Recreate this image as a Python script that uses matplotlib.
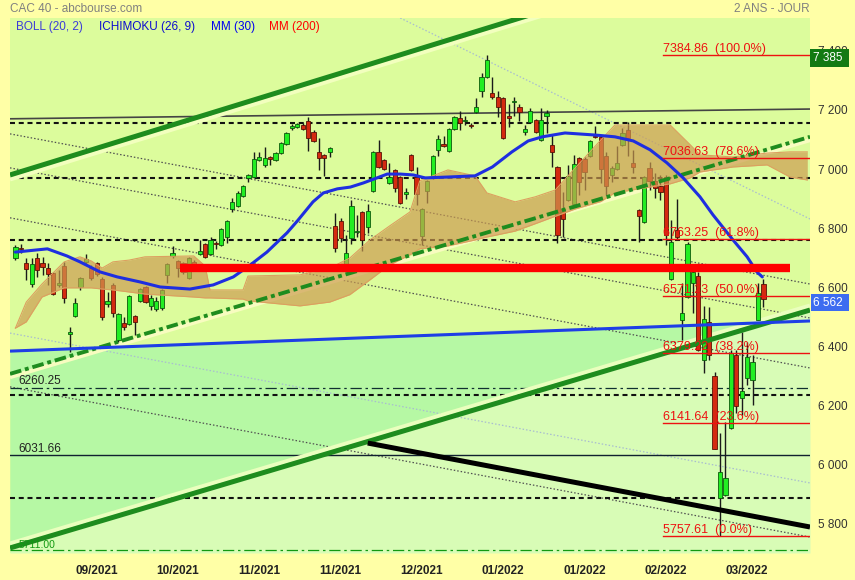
import matplotlib
matplotlib.use("Agg")
import matplotlib.pyplot as plt

plt.rcParams['font.family'] = ['Liberation Sans', 'DejaVu Sans']

# daily candles (index 0 = first session shown)
opens = [6699, 6733, 6682, 6611, 6699, 6682, 6665, 6648, 6608, 6672,
         6442, 6503, 6601, 6686, 6665, 6682, 6628, 6543, 6608, 6422,
         6479, 6476, 6503, 6554, 6601, 6537, 6527, 6530, 6642, 6706,
         6689, 6682, 6631, 6686, 6713, 6747, 6713, 6750, 6743, 6770,
         6865, 6875, 6909, 6970, 6973, 7031, 7014, 7041, 7031, 7054,
         7085, 7139, 7142, 7149, 7163, 7126, 7058, 7048, 7058, 6807,
         6824, 6679, 6767, 6787, 6855, 6804, 6926, 7058, 7031, 6953,
         6997, 6973, 6916, 7048, 6973, 6774, 6926, 6970, 7065, 7085,
         7061, 7136, 7173, 7163, 7149, 7193, 7264, 7312, 7258, 7244,
         7241, 7180, 7227, 7210, 7126, 7159, 7166, 7098, 7180, 7082,
         7007, 6865, 6895, 6882, 7038, 7034, 7044, 7112, 7109, 7044,
         6980, 7000, 7082, 7132, 7021, 6862, 6821, 7004, 6960, 6943,
         6973, 6628, 6794, 6489, 6567, 6615, 6638, 6354, 6483, 6300,
         5887, 5897, 6124, 6371, 6225, 6293, 6286, 6489, 6611]
highs = [6743, 6747, 6699, 6699, 6716, 6702, 6682, 6652, 6659, 6686,
         6466, 6564, 6635, 6713, 6675, 6686, 6635, 6584, 6615, 6513,
         6500, 6574, 6506, 6598, 6604, 6574, 6567, 6594, 6682, 6740,
         6692, 6686, 6702, 6692, 6760, 6750, 6770, 6757, 6801, 6828,
         6902, 6926, 6946, 6983, 7058, 7058, 7075, 7044, 7058, 7092,
         7125, 7153, 7156, 7156, 7176, 7132, 7105, 7051, 7075, 6851,
         6835, 6777, 6895, 6845, 6858, 6882, 7061, 7098, 7034, 7021,
         7000, 6977, 6936, 7051, 7007, 6868, 6963, 7048, 7115, 7112,
         7139, 7180, 7197, 7180, 7156, 7241, 7325, 7385, 7312, 7264,
         7244, 7220, 7244, 7220, 7149, 7207, 7170, 7207, 7200, 7115,
         7010, 6922, 7014, 7048, 7041, 7041, 7098, 7146, 7112, 7058,
         7010, 7078, 7139, 7159, 7065, 6865, 6977, 7024, 6987, 6980,
         6980, 6828, 6899, 6615, 6753, 6669, 6652, 6537, 6533, 6313,
         6107, 6144, 6388, 6388, 6449, 6415, 6371, 6615, 6628]
lows = [6692, 6716, 6625, 6601, 6635, 6642, 6608, 6574, 6601, 6547,
        6381, 6500, 6591, 6675, 6625, 6638, 6489, 6533, 6500, 6415,
        6455, 6473, 6439, 6550, 6547, 6523, 6520, 6523, 6615, 6699,
        6635, 6645, 6628, 6669, 6709, 6699, 6709, 6730, 6740, 6750,
        6855, 6872, 6906, 6956, 6970, 7028, 7007, 7014, 7027, 7051,
        7081, 7132, 7139, 7132, 7061, 7092, 6997, 6977, 7041, 6719,
        6753, 6659, 6747, 6770, 6723, 6784, 6922, 7004, 6997, 6950,
        6923, 6882, 6899, 6994, 6879, 6743, 6885, 6967, 7044, 7075,
        7058, 7132, 7132, 7149, 7139, 7190, 7244, 7308, 7237, 7176,
        7102, 7142, 7180, 7163, 7115, 7156, 7122, 7095, 7122, 7007,
        6750, 6770, 6892, 6879, 6912, 6929, 7041, 7105, 6953, 6912,
        6956, 6997, 7078, 7044, 6987, 6753, 6818, 6929, 6902, 6895,
        6743, 6625, 6760, 6422, 6564, 6513, 6384, 6310, 6354, 6053,
        5758, 5894, 6120, 6175, 6168, 6269, 6202, 6489, 6533]
closes = [6736, 6729, 6662, 6679, 6659, 6669, 6645, 6577, 6615, 6564,
          6449, 6547, 6631, 6696, 6631, 6645, 6500, 6554, 6513, 6510,
          6466, 6571, 6483, 6594, 6550, 6564, 6554, 6591, 6679, 6716,
          6665, 6652, 6699, 6679, 6723, 6703, 6760, 6747, 6797, 6824,
          6889, 6919, 6943, 6980, 7034, 7041, 7038, 7034, 7054, 7088,
          7122, 7146, 7153, 7136, 7105, 7095, 7038, 7038, 7071, 6733,
          6767, 6716, 6875, 6790, 6760, 6858, 7058, 7007, 7000, 6973,
          6936, 6885, 6923, 6997, 6916, 6865, 6960, 7044, 7102, 7078,
          7136, 7176, 7156, 7166, 7146, 7210, 7312, 7369, 7244, 7210,
          7105, 7173, 7231, 7193, 7136, 7197, 7126, 7166, 7190, 7058,
          6777, 6831, 6977, 7017, 6956, 6990, 7095, 7109, 7000, 6943,
          7004, 7021, 7122, 7105, 7007, 6841, 6973, 6960, 6936, 6923,
          6777, 6753, 6770, 6513, 6747, 6652, 6388, 6493, 6371, 6053,
          5975, 5955, 6378, 6198, 6249, 6364, 6347, 6581, 6562]

tick_pos = [15, 30, 45, 60, 75, 90, 105, 120, 135]
tick_labels = ['09/2021', '10/2021', '11/2021', '11/2021', '12/2021',
               '01/2022', '01/2022', '02/2022', '03/2022']
price_ticks = [5800, 6000, 6200, 6400, 6600, 6800, 7000, 7200, 7400]

# MM(30)
mm30_x = [0, 5.9, 9.5, 11.9, 15.6, 18.8, 23, 26.7, 32.2, 36.5,
          40.2, 43.3, 46.4, 50.1, 52, 54.9, 56.8, 59.4, 61.8, 64.2,
          66.7, 68.6, 71, 73.4, 75.6, 79.8, 84.8, 88, 91.6, 94.6,
          97.2, 101.4, 107, 110.6, 114, 117.1, 120.2, 123.2, 126.3, 128.7,
          132.4, 135, 136.8, 137.8]
mm30_y = [6719, 6730, 6706, 6686, 6652, 6635, 6618, 6601, 6594, 6608,
          6635, 6675, 6719, 6784, 6824, 6889, 6919, 6933, 6939, 6953,
          6970, 6983, 6983, 6980, 6970, 6973, 6977, 7007, 7058, 7095,
          7109, 7122, 7115, 7109, 7095, 7065, 7021, 6970, 6906, 6845,
          6760, 6703, 6652, 6635]

# Ichimoku cloud (kumo) edges
cloud_x = [0, 2, 4.9, 9, 11.9, 14, 16, 18, 21, 23.9,
           32.9, 35, 35.9, 42, 42.9, 52.5, 58, 61.7, 65.4, 69,
           72.8, 74.6, 79.8, 84.8, 87, 92.2, 95.9, 99.6, 103.3, 108,
           110.6, 120.8, 124.5, 126.3, 132.4, 138.7, 142.9, 146.1]
cloud_top = [6462, 6550, 6611, 6686, 6703, 6689, 6665, 6686, 6692, 6703,
             6706, 6672, 6591, 6591, 6638, 6642, 6665, 6699, 6760, 6807,
             6855, 6960, 6997, 6977, 6919, 6889, 6906, 6929, 7004, 7098,
             7149, 7149, 7082, 7048, 7041, 7054, 7058, 7058]
cloud_bot = [6462, 6483, 6567, 6598, 6598, 6598, 6594, 6591, 6584, 6577,
             6567, 6564, 6564, 6560, 6554, 6537, 6550, 6575, 6625, 6675,
             6710, 6730, 6740, 6760, 6770, 6790, 6815, 6840, 6865, 6890,
             6920, 6950, 6970, 6990, 7007, 7014, 6973, 6963]

# Fibonacci retracement
fib_levels = [7384.86, 7036.63, 6763.25, 6571.23, 6379.22, 6141.64, 5757.61]
fib_pct = ['100.0%', '78.6%', '61.8%', '50.0%', '38.2%', '23.6%', '0.0%']
fib_start = 119.5

# horizontal lines
dashed_levels = [7157, 6971, 6760, 6237, 5888]
level_6260 = 6260.25
level_6031 = 6031.66
level_5711 = 5711.00
red_band = (30.4, 142.9, 6665)

# drawn trend lines (x0, y0, x1, y1)
upper_green = (-1, 6980, 146.6, 7813)
lower_green = (-1, 5718, 146.6, 6523)
mid_dashdot = (-1, 6307, 146.6, 7109)
blue_trend = (-1, 6384, 146.6, 6486)
black_trend = (65, 6073, 146.6, 5789)
thin_top = (-1, 7170, 146.6, 7203)
dotted_dark = [(-1, 7119, 146.6, 6611), (-1, 7004, 146.6, 6496),
               (-1, 6835, 146.6, 6327), (-1, 6263, 146.6, 5755)]
dotted_light = [(-1, 6445, 146.6, 5938), (71, 7511, 146.6, 6831)]

last_close = 6562
high_label = 7385

XMIN, XMAX = -1, 146.6
YMIN, YMAX = 5701, 7511

fig = plt.figure(figsize=(8.55, 5.8), dpi=100, facecolor='#ffffa6')
ax = fig.add_axes([10 / 855, 27 / 580, 800 / 855, 535 / 580])
ax.set_facecolor('#dcfc9c')
ax.set_xlim(XMIN, XMAX)
ax.set_ylim(YMIN, YMAX)


def seg(line, **kw):
    return ax.plot([line[0], line[2]], [line[1], line[3]], solid_capstyle='butt', **kw)


def at(line, x):
    x0, y0, x1, y1 = line
    return y0 + (y1 - y0) * (x - x0) / (x1 - x0)


# background zones
xs = [XMIN, XMAX]
lg = [at(lower_green, x) for x in xs]
bl = [at(blue_trend, x) for x in xs]
ax.fill_between(xs, [YMIN, YMIN], lg, color='#d8fcb6', lw=0, zorder=0)
ax.fill_between(xs, lg, bl, where=[b > g for b, g in zip(bl, lg)], interpolate=True,
                color='#b6f8a4', lw=0, zorder=0)

# dotted diagonals
for d in dotted_dark:
    seg(d, color='#505050', lw=0.9, ls=(0, (1.2, 1.6)), zorder=1)
for d in dotted_light:
    seg(d, color='#a8bcd0', lw=0.9, ls=(0, (1.2, 1.6)), zorder=1)

# horizontals
for lv in dashed_levels:
    ax.axhline(lv, color='#111111', lw=1.5, ls=(0, (2.4, 1.8)), zorder=1.2)
ax.axhline(level_6260, color='#103030', lw=0.9, ls=(0, (9, 3, 2, 3)), zorder=1.2)
ax.axhline(level_6031, color='#102030', lw=1.0, zorder=1.2)
ax.axhline(level_5711, color='#119911', lw=0.9, ls=(0, (9, 3, 2, 3)), zorder=1.2)
seg(thin_top, color='#444444', lw=1.2, zorder=1.2)
ax.text(0.5, level_6260 + 12, '6260.25', fontsize=8.5, color='#222222', zorder=6)
ax.text(0.5, level_6031 + 12, '6031.66', fontsize=8.5, color='#222222', zorder=6)
ax.text(0.5, level_5711 + 8, '5711.00', fontsize=7.5, color='#119911', zorder=6)

# light stripes beside the channel lines
seg((upper_green[0], upper_green[1] - 15, upper_green[2], upper_green[3] - 15), color='#f2ffbe', lw=3, zorder=1.5)
seg((lower_green[0], lower_green[1] + 15, lower_green[2], lower_green[3] + 15), color='#eaffbe', lw=3, zorder=1.5)
seg((mid_dashdot[0], mid_dashdot[1] - 11, mid_dashdot[2], mid_dashdot[3] - 11), color='#f8fcc0', lw=3, zorder=1.5)

# candles
idx = list(range(len(opens)))
ax.vlines(idx, lows, highs, color='#1a1a1a', lw=1.0, zorder=2)
bottoms = [min(o, c) for o, c in zip(opens, closes)]
heights = [max(abs(c - o), 3) for o, c in zip(opens, closes)]
face = ['#22ee22' if c >= o else '#d42a10' for o, c in zip(opens, closes)]
edge = ['#0c5a0c' if c >= o else '#5a1205' for o, c in zip(opens, closes)]
ax.bar(idx, heights, bottom=bottoms, width=0.78, color=face, edgecolor=edge, lw=0.6, zorder=2.1)

# ichimoku cloud
ax.fill_between(cloud_x, cloud_bot, cloud_top, color='#cc9a50', alpha=0.68, lw=0, zorder=2.5)
ax.plot(cloud_x, cloud_top, color='#dca060', lw=0.8, zorder=2.5)
ax.plot(cloud_x, cloud_bot, color='#dca060', lw=0.8, zorder=2.5)

# channel / trend lines
seg(upper_green, color='#1e8c1e', lw=3.6, zorder=3)
seg(lower_green, color='#1e8c1e', lw=3.6, zorder=3)
seg(mid_dashdot, color='#1e8c1e', lw=2.8, ls=(0, (3, 1, 1, 1)), zorder=3)
seg(blue_trend, color='#1e3ee6', lw=2.2, zorder=3)
seg(black_trend, color='#000000', lw=3.6, zorder=3)

# MM(30)
ax.plot(mm30_x, mm30_y, color='#1e2ee0', lw=2.2, zorder=3.5, solid_capstyle='round')

# red horizontal band
ax.plot([red_band[0], red_band[1]], [red_band[2], red_band[2]], color='#ff0000', lw=6, zorder=4,
        solid_capstyle='butt')

# fibonacci
for lv, pc in zip(fib_levels, fib_pct):
    ax.plot([fib_start, XMAX], [lv, lv], color='#ee1111', lw=1.0, zorder=4.5)
    ax.text(fib_start, lv + 10, f'{lv:.2f}  ({pc})', fontsize=9, color='#ee1111', zorder=6)

# axes
for s in ax.spines.values():
    s.set_visible(False)
ax.yaxis.tick_right()
ax.set_yticks(price_ticks, [f'{v:,}'.replace(',', ' ') for v in price_ticks])
ax.set_xticks(tick_pos, tick_labels)
ax.tick_params(axis='y', length=0, pad=6, labelsize=8.5, labelcolor='#333333')
ax.tick_params(axis='x', length=0, pad=9, labelsize=8.5, labelcolor='#222222')
for lab in ax.get_xticklabels():
    lab.set_fontfamily(['Liberation Sans Narrow', 'Liberation Sans'])
    lab.set_fontweight('bold')

# price boxes on the right
ax.text(1.004, high_label - 10, f'{high_label:,}'.replace(',', ' ') + ' ', transform=ax.get_yaxis_transform(),
        va='center', ha='left', fontsize=8.5, color='white', zorder=7,
        bbox=dict(boxstyle='square,pad=0.25', fc='#137a13', ec='none'))
ax.text(1.004, last_close - 14, f'{last_close:,}'.replace(',', ' ') + ' ', transform=ax.get_yaxis_transform(),
        va='center', ha='left', fontsize=8.5, color='white', zorder=7, clip_on=False,
        bbox=dict(boxstyle='square,pad=0.22', fc='#3d6cf0', ec='none'))

# header
fig.text(10 / 855, 1 - 9 / 580, 'CAC 40 - abcbourse.com', fontsize=8.5, color='#808080', va='center')
fig.text(810 / 855, 1 - 9 / 580, '2 ANS - JOUR', fontsize=8.5, color='#808080', va='center', ha='right')
legend_items = [('BOLL (20, 2)', '#3c3cd8', 16), ('ICHIMOKU (26, 9)', '#0c0cd0', 99),
                ('MM (30)', '#0000f0', 211), ('MM (200)', '#ff0000', 269)]
for txt, col, px in legend_items:
    fig.text(px / 855, 1 - 27 / 580, txt, fontsize=8.5, color=col, va='center')

fig.savefig('out.png', dpi=100, facecolor=fig.get_facecolor())
